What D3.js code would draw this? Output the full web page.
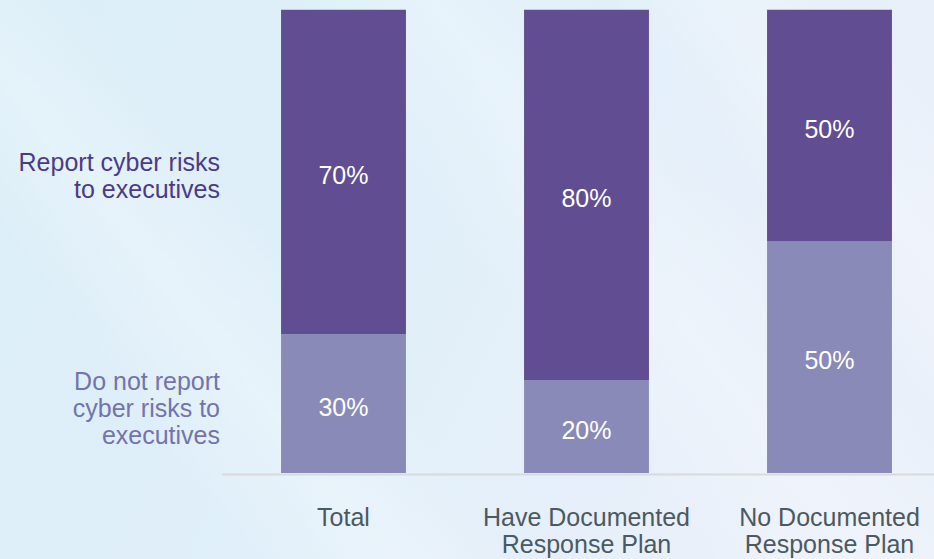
<!DOCTYPE html>
<html>
<head>
<meta charset="utf-8">
<script src="https://cdn.jsdelivr.net/npm/d3@7"></script>
<style>
  html, body { margin: 0; padding: 0; }
  body { width: 934px; height: 559px; overflow: hidden; }
  svg { display: block; font-family: "Liberation Sans", Arial, sans-serif; }
</style>
</head>
<body>
<svg id="chart" width="934" height="559"></svg>
<script>
// Groups along the x axis (each may wrap onto two lines)
const categories = ["Total", "Have Documented Response Plan", "No Documented Response Plan"];
const categoryLines = [["Total"], ["Have Documented", "Response Plan"], ["No Documented", "Response Plan"]];

// Share of respondents (%) in each group
const notReport = [30, 20, 50];   // bottom segment
const report = [70, 80, 50];      // top segment

// Series legend text shown at the left
const reportLabel = ["Report cyber risks", "to executives"];
const notReportLabel = ["Do not report", "cyber risks to", "executives"];

const colors = { report: "#614d91", notReport: "#8a8ab8" };
const labelColors = { report: "#4b3b86", notReport: "#7473ab", category: "#4b5962" };

const W = 934, H = 559;
const svg = d3.select("#chart");

// Soft light-blue backdrop with faint diagonal sheen
const defs = svg.append("defs");
const bg = defs.append("linearGradient").attr("id", "bg")
  .attr("x1", "0").attr("y1", "0").attr("x2", "1").attr("y2", "0.3");
bg.append("stop").attr("offset", "0").attr("stop-color", "#dbeef8");
bg.append("stop").attr("offset", "0.5").attr("stop-color", "#e0eff9");
bg.append("stop").attr("offset", "1").attr("stop-color", "#eaf0fa");
svg.append("rect").attr("width", W).attr("height", H).attr("fill", "url(#bg)");

const sheen = defs.append("linearGradient").attr("id", "sheen")
  .attr("x1", "0").attr("y1", "0").attr("x2", "1").attr("y2", "0");
sheen.append("stop").attr("offset", "0").attr("stop-color", "#ffffff").attr("stop-opacity", 0);
sheen.append("stop").attr("offset", "0.5").attr("stop-color", "#ffffff").attr("stop-opacity", 0.25);
sheen.append("stop").attr("offset", "1").attr("stop-color", "#ffffff").attr("stop-opacity", 0);

const bands = [
  { x: 60, w: 220, rot: -38 },
  { x: 520, w: 260, rot: -38 },
  { x: 850, w: 200, rot: -38 }
];
svg.append("g").selectAll("rect").data(bands).join("rect")
  .attr("x", d => d.x).attr("y", -400).attr("width", d => d.w).attr("height", 1400)
  .attr("fill", "url(#sheen)")
  .attr("transform", d => `rotate(${d.rot}, ${d.x + d.w / 2}, 280)`);

// Scales
const x = d3.scaleBand().domain(categories).range([222, 951])
  .paddingInner(0.486).paddingOuter(0.243);
const y = d3.scaleLinear().domain([0, 100]).range([473, 10]);

const rows = categories.map((c, i) => ({ cat: c, lines: categoryLines[i], low: notReport[i], high: report[i] }));

// Baseline
svg.append("line")
  .attr("x1", x.range()[0]).attr("x2", W)
  .attr("y1", y(0) + 1.5).attr("y2", y(0) + 1.5)
  .attr("stroke", "#d8dadc").attr("stroke-width", 2);

const bars = svg.append("g");

// Bottom segment: do not report
bars.selectAll("rect.low").data(rows).join("rect").attr("class", "low")
  .attr("x", d => x(d.cat)).attr("width", x.bandwidth())
  .attr("y", d => y(d.low)).attr("height", d => y(0) - y(d.low))
  .attr("fill", colors.notReport);

// Top segment: report
bars.selectAll("rect.high").data(rows).join("rect").attr("class", "high")
  .attr("x", d => x(d.cat)).attr("width", x.bandwidth())
  .attr("y", d => y(d.low + d.high)).attr("height", d => y(d.low) - y(d.low + d.high))
  .attr("fill", colors.report);

// Faint light edge on bar tops
bars.selectAll("line.top").data(rows).join("line").attr("class", "top")
  .attr("x1", d => x(d.cat)).attr("x2", d => x(d.cat) + x.bandwidth())
  .attr("y1", d => y(d.low + d.high) - 0.5).attr("y2", d => y(d.low + d.high) - 0.5)
  .attr("stroke", "#c9c6e6").attr("stroke-width", 1);

// Value labels inside segments
const vl = svg.append("g").attr("fill", "#ffffff").attr("font-size", 25).attr("text-anchor", "middle");
vl.selectAll("text.low").data(rows).join("text").attr("class", "low")
  .attr("x", d => x(d.cat) + x.bandwidth() / 2)
  .attr("y", d => (y(0) + y(d.low)) / 2 + 12)
  .text(d => d.low + "%");
vl.selectAll("text.high").data(rows).join("text").attr("class", "high")
  .attr("x", d => x(d.cat) + x.bandwidth() / 2)
  .attr("y", d => (y(d.low) + y(d.low + d.high)) / 2 + 12)
  .text(d => d.high + "%");

// Category labels under the axis
const cl = svg.append("g").attr("fill", labelColors.category).attr("font-size", 25).attr("text-anchor", "middle");
cl.selectAll("text").data(rows).join("text")
  .attr("x", d => x(d.cat) + x.bandwidth() / 2)
  .attr("y", 526)
  .each(function (d) {
    d3.select(this).selectAll("tspan").data(d.lines).join("tspan")
      .attr("x", x(d.cat) + x.bandwidth() / 2)
      .attr("dy", (t, i) => i === 0 ? 0 : 27)
      .text(t => t);
  });

// Series labels at left, right-aligned beside the first bar
const legendX = 220;
const first = rows[0];
function seriesLabel(lines, centerY, color) {
  const lh = 27;
  const top = centerY - (lines.length - 1) * lh / 2 + 9;
  svg.append("text").attr("fill", color).attr("font-size", 25).attr("text-anchor", "end")
    .selectAll("tspan").data(lines).join("tspan")
    .attr("x", legendX).attr("y", (t, i) => top + i * lh).text(t => t);
}
seriesLabel(reportLabel, (y(first.low) + y(first.low + first.high)) / 2 + 3, labelColors.report);
seriesLabel(notReportLabel, (y(0) + y(first.low)) / 2 + 4, labelColors.notReport);
</script>
</body>
</html>
